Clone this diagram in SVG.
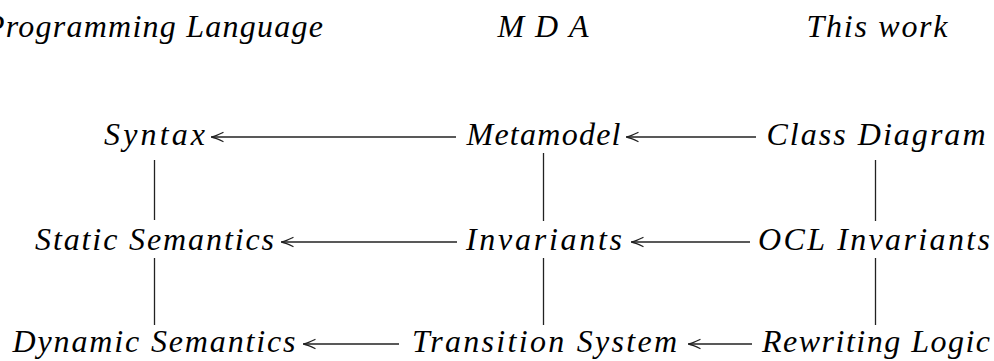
<svg xmlns="http://www.w3.org/2000/svg" width="994" height="361" viewBox="0 0 994 361">
  <style>
    text { font-family: "Liberation Serif", "DejaVu Serif", serif; font-style: italic; font-size: 32px; fill: #000; text-anchor: middle; }
    .edge { stroke: #222; stroke-width: 1.3; fill: none; }
    .head { stroke: #222; stroke-width: 1.3; fill: none; stroke-linecap: round; }
  </style>
  <defs>
    <!-- open arrow tip drawn along +x with the point at the origin -->
    <marker id="tip" markerUnits="userSpaceOnUse" markerWidth="16" markerHeight="12" refX="0" refY="0" orient="auto" viewBox="-16 -6 16 12" overflow="visible">
      <path class="head" d="M-12,-4.5 Q-5,-1 -0.5,0 Q-5,1 -12,4.5"/>
    </marker>
  </defs>

  <!-- column headers -->
  <g id="headers">
    <text x="154" y="37" textLength="338" lengthAdjust="spacing">Programming Language</text>
    <text x="543" y="37" textLength="91" lengthAdjust="spacing">MDA</text>
    <text x="877" y="37" textLength="141" lengthAdjust="spacing">This work</text>
  </g>

  <!-- row 1 -->
  <g id="syntax"><text x="154.5" y="145" textLength="101" lengthAdjust="spacing">Syntax</text></g>
  <g id="metamodel"><text x="543.5" y="145" textLength="154" lengthAdjust="spacing">Metamodel</text></g>
  <g id="class-diagram"><text x="876" y="145" textLength="219" lengthAdjust="spacing">Class Diagram</text></g>

  <!-- row 2 -->
  <g id="static-semantics"><text x="154.5" y="250" textLength="239" lengthAdjust="spacing">Static Semantics</text></g>
  <g id="invariants"><text x="544" y="250" textLength="156" lengthAdjust="spacing">Invariants</text></g>
  <g id="ocl-invariants"><text x="874" y="250" textLength="232" lengthAdjust="spacing">OCL Invariants</text></g>

  <!-- row 3 -->
  <g id="dynamic-semantics"><text x="154" y="352" textLength="283" lengthAdjust="spacing">Dynamic Semantics</text></g>
  <g id="transition-system"><text x="544.5" y="352" textLength="265" lengthAdjust="spacing">Transition System</text></g>
  <g id="rewriting-logic"><text x="876" y="352" textLength="228" lengthAdjust="spacing">Rewriting Logic</text></g>

  <!-- connectors -->
  <g id="connectors">
    <!-- horizontal arrows, right to left -->
    <line class="edge" x1="456" y1="137" x2="211" y2="137" marker-end="url(#tip)"/>
    <line class="edge" x1="756" y1="137" x2="626" y2="137" marker-end="url(#tip)"/>
    <line class="edge" x1="457" y1="242" x2="281" y2="242" marker-end="url(#tip)"/>
    <line class="edge" x1="750" y1="242" x2="631" y2="242" marker-end="url(#tip)"/>
    <line class="edge" x1="399" y1="344" x2="303" y2="344" marker-end="url(#tip)"/>
    <line class="edge" x1="752" y1="344" x2="688" y2="344" marker-end="url(#tip)"/>
    <!-- vertical links -->
    <line class="edge" x1="154.5" y1="160" x2="154.5" y2="220"/>
    <line class="edge" x1="543.5" y1="153" x2="543.5" y2="221"/>
    <line class="edge" x1="875.5" y1="160" x2="875.5" y2="221"/>
    <line class="edge" x1="154.5" y1="258" x2="154.5" y2="325"/>
    <line class="edge" x1="543.5" y1="258" x2="543.5" y2="325"/>
    <line class="edge" x1="875.5" y1="258" x2="875.5" y2="325"/>
  </g>
</svg>
